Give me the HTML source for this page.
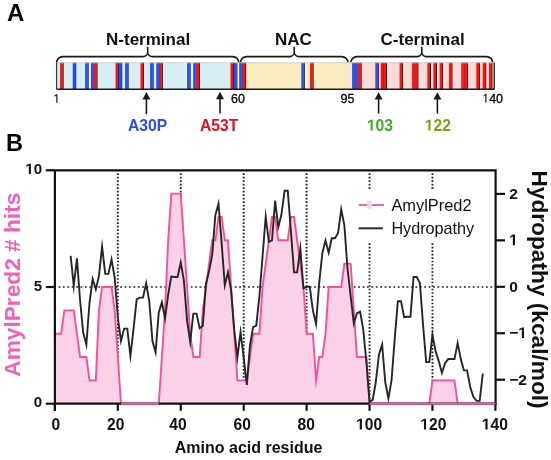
<!DOCTYPE html>
<html><head><meta charset="utf-8"><style>
html,body{margin:0;padding:0;background:#fff;}
body{width:551px;height:460px;overflow:hidden;}
svg{display:block;font-family:"Liberation Sans",sans-serif;will-change:transform;}
.dot{stroke:#222;stroke-width:1.9;stroke-dasharray:1.7 1.797;stroke-dashoffset:1.75;fill:none}
.doth{stroke:#222;stroke-width:1.7;stroke-dasharray:1.8 2.607;stroke-dashoffset:1.907;fill:none}
.ax{stroke:#111;stroke-width:2.2;fill:none}
.xl{font-size:16px;font-weight:bold;text-anchor:middle;fill:#111}
.yl{font-size:15px;font-weight:bold;text-anchor:end;fill:#111}
.yr{font-size:15.5px;font-weight:bold;fill:#111}
</style></head><body>
<svg width="551" height="460" viewBox="0 0 551 460">
<text x="7.0" y="20.7" font-size="24" font-weight="bold" fill="#000">A</text>
<text x="148.1" y="45" font-size="17" font-weight="bold" text-anchor="middle" fill="#111">N-terminal</text>
<text x="293.4" y="45" font-size="17" font-weight="bold" text-anchor="middle" fill="#111">NAC</text>
<text x="422.6" y="44.8" font-size="17" font-weight="bold" text-anchor="middle" fill="#111">C-terminal</text>
<g fill="none" stroke="#1a1a1a" stroke-width="1.6">
<path d="M56.60,63.00 L56.60,62.80 A6.20,6.20 0 0 1 62.80,56.60 L143.10,56.60 A4.60,4.60 0 0 0 147.70,52.00 L147.70,46.80 M147.70,52.00 A4.60,4.60 0 0 0 152.30,56.60 L232.60,56.60 A6.20,6.20 0 0 1 238.80,62.80 L238.80,63.00"/>
<path d="M240.50,63.00 L240.50,62.80 A6.20,6.20 0 0 1 246.70,56.60 L289.65,56.60 A4.60,4.60 0 0 0 294.25,52.00 L294.25,46.80 M294.25,52.00 A4.60,4.60 0 0 0 298.85,56.60 L341.80,56.60 A6.20,6.20 0 0 1 348.00,62.80 L348.00,63.00"/>
<path d="M350.80,63.00 L350.80,62.80 A6.20,6.20 0 0 1 357.00,56.60 L417.15,56.60 A4.60,4.60 0 0 0 421.75,52.00 L421.75,46.80 M421.75,52.00 A4.60,4.60 0 0 0 426.35,56.60 L486.50,56.60 A6.20,6.20 0 0 1 492.70,62.80 L492.70,63.00"/>
</g>
<rect x="56.50" y="62.60" width="437.80" height="26.40" fill="#d7eff4"/>
<rect x="237.2" y="62.60" width="1.9" height="26.40" fill="#f4fbfd"/>
<rect x="245.7" y="62.60" width="106.10" height="26.40" fill="#fbebc0"/>
<rect x="351.8" y="62.60" width="142.50" height="26.40" fill="#fcdbd7"/>
<rect x="60.10" y="62.60" width="2.60" height="26.40" fill="#ff1010"/><rect x="62.70" y="62.60" width="0.9" height="26.40" fill="#1a0000"/><rect x="72.70" y="62.60" width="2.60" height="26.40" fill="#2050ff"/><rect x="75.30" y="62.60" width="0.9" height="26.40" fill="#0a1038"/><rect x="85.10" y="62.60" width="2.60" height="26.40" fill="#2050ff"/><rect x="87.70" y="62.60" width="0.9" height="26.40" fill="#0a1038"/><rect x="91.00" y="62.60" width="2.60" height="26.40" fill="#2050ff"/><rect x="93.60" y="62.60" width="0.9" height="26.40" fill="#0a1038"/><rect x="94.00" y="62.60" width="2.60" height="26.40" fill="#ff1010"/><rect x="96.60" y="62.60" width="0.9" height="26.40" fill="#1a0000"/><rect x="115.50" y="62.60" width="2.60" height="26.40" fill="#ff1010"/><rect x="118.10" y="62.60" width="0.9" height="26.40" fill="#1a0000"/><rect x="118.70" y="62.60" width="2.60" height="26.40" fill="#2050ff"/><rect x="121.30" y="62.60" width="0.9" height="26.40" fill="#0a1038"/><rect x="125.10" y="62.60" width="2.60" height="26.40" fill="#2050ff"/><rect x="127.70" y="62.60" width="0.9" height="26.40" fill="#0a1038"/><rect x="140.50" y="62.60" width="2.60" height="26.40" fill="#ff1010"/><rect x="143.10" y="62.60" width="0.9" height="26.40" fill="#1a0000"/><rect x="150.10" y="62.60" width="2.60" height="26.40" fill="#2050ff"/><rect x="152.70" y="62.60" width="0.9" height="26.40" fill="#0a1038"/><rect x="156.30" y="62.60" width="2.60" height="26.40" fill="#2050ff"/><rect x="158.90" y="62.60" width="0.9" height="26.40" fill="#0a1038"/><rect x="159.30" y="62.60" width="2.60" height="26.40" fill="#ff1010"/><rect x="161.90" y="62.60" width="0.9" height="26.40" fill="#1a0000"/><rect x="187.10" y="62.60" width="2.60" height="26.40" fill="#2050ff"/><rect x="189.70" y="62.60" width="0.9" height="26.40" fill="#0a1038"/><rect x="193.20" y="62.60" width="2.60" height="26.40" fill="#2050ff"/><rect x="195.80" y="62.60" width="0.9" height="26.40" fill="#0a1038"/><rect x="196.30" y="62.60" width="2.60" height="26.40" fill="#ff1010"/><rect x="198.90" y="62.60" width="0.9" height="26.40" fill="#1a0000"/><rect x="230.50" y="62.60" width="2.60" height="26.40" fill="#ff1010"/><rect x="233.10" y="62.60" width="0.9" height="26.40" fill="#1a0000"/><rect x="233.90" y="62.60" width="2.60" height="26.40" fill="#2050ff"/><rect x="236.50" y="62.60" width="0.9" height="26.40" fill="#0a1038"/><rect x="239.20" y="62.60" width="2.60" height="26.40" fill="#2050ff"/><rect x="241.80" y="62.60" width="0.9" height="26.40" fill="#0a1038"/><rect x="242.60" y="62.60" width="2.60" height="26.40" fill="#ff1010"/><rect x="245.20" y="62.60" width="0.9" height="26.40" fill="#1a0000"/><rect x="301.30" y="62.60" width="2.60" height="26.40" fill="#2050ff"/><rect x="303.90" y="62.60" width="0.9" height="26.40" fill="#0a1038"/><rect x="310.10" y="62.60" width="2.60" height="26.40" fill="#ff1010"/><rect x="312.70" y="62.60" width="0.9" height="26.40" fill="#1a0000"/><rect x="352.10" y="62.60" width="2.60" height="26.40" fill="#2050ff"/><rect x="354.70" y="62.60" width="0.9" height="26.40" fill="#0a1038"/><rect x="354.90" y="62.60" width="2.60" height="26.40" fill="#2050ff"/><rect x="357.50" y="62.60" width="0.9" height="26.40" fill="#0a1038"/><rect x="358.10" y="62.60" width="2.60" height="26.40" fill="#ff1010"/><rect x="360.70" y="62.60" width="0.9" height="26.40" fill="#1a0000"/><rect x="375.30" y="62.60" width="2.60" height="26.40" fill="#2050ff"/><rect x="377.90" y="62.60" width="0.9" height="26.40" fill="#0a1038"/><rect x="380.70" y="62.60" width="2.60" height="26.40" fill="#ff1010"/><rect x="383.30" y="62.60" width="0.9" height="26.40" fill="#1a0000"/><rect x="383.50" y="62.60" width="2.60" height="26.40" fill="#ff1010"/><rect x="386.10" y="62.60" width="0.9" height="26.40" fill="#1a0000"/><rect x="399.60" y="62.60" width="2.60" height="26.40" fill="#ff1010"/><rect x="402.20" y="62.60" width="0.9" height="26.40" fill="#1a0000"/><rect x="412.10" y="62.60" width="2.60" height="26.40" fill="#ff1010"/><rect x="414.70" y="62.60" width="0.9" height="26.40" fill="#1a0000"/><rect x="414.90" y="62.60" width="2.60" height="26.40" fill="#ff1010"/><rect x="417.50" y="62.60" width="0.9" height="26.40" fill="#1a0000"/><rect x="427.40" y="62.60" width="2.60" height="26.40" fill="#ff1010"/><rect x="430.00" y="62.60" width="0.9" height="26.40" fill="#1a0000"/><rect x="433.40" y="62.60" width="2.60" height="26.40" fill="#ff1010"/><rect x="436.00" y="62.60" width="0.9" height="26.40" fill="#1a0000"/><rect x="439.60" y="62.60" width="2.60" height="26.40" fill="#ff1010"/><rect x="442.20" y="62.60" width="0.9" height="26.40" fill="#1a0000"/><rect x="448.90" y="62.60" width="2.60" height="26.40" fill="#ff1010"/><rect x="451.50" y="62.60" width="0.9" height="26.40" fill="#1a0000"/><rect x="461.20" y="62.60" width="2.60" height="26.40" fill="#ff1010"/><rect x="463.80" y="62.60" width="0.9" height="26.40" fill="#1a0000"/><rect x="464.30" y="62.60" width="2.60" height="26.40" fill="#ff1010"/><rect x="466.90" y="62.60" width="0.9" height="26.40" fill="#1a0000"/><rect x="476.30" y="62.60" width="2.60" height="26.40" fill="#ff1010"/><rect x="478.90" y="62.60" width="0.9" height="26.40" fill="#1a0000"/><rect x="482.70" y="62.60" width="2.60" height="26.40" fill="#ff1010"/><rect x="485.30" y="62.60" width="0.9" height="26.40" fill="#1a0000"/><rect x="488.90" y="62.60" width="2.60" height="26.40" fill="#ff1010"/><rect x="491.50" y="62.60" width="0.9" height="26.40" fill="#1a0000"/>
<line x1="56.50" y1="62.80" x2="494.30" y2="62.80" stroke="#c9c9c9" stroke-width="0.8"/>
<line x1="56.50" y1="89.2" x2="494.30" y2="89.2" stroke="#1a1a1a" stroke-width="1.4"/>
<line x1="56.6" y1="62.6" x2="56.6" y2="89.6" stroke="#333" stroke-width="1.1"/>
<line x1="494.2" y1="62.6" x2="494.2" y2="89.6" stroke="#111" stroke-width="1.2"/>
<g font-size="12.5" fill="#000" stroke="#000" stroke-width="0.3">
<text x="231" y="102.6">60</text>
<text x="340.6" y="102.6">95</text>
</g>
<g stroke="#000" stroke-width="0.3"><text x="53.20" y="102.80" font-size="12.50" fill="#000"> </text><path d="M515,0 L696,0 L696,1409 L530,1409 L197,1180 L197,1010 L515,1237 Z" fill="#000" transform="translate(53.20,102.80) scale(0.00610,-0.00610)"/><text x="482.20" y="102.60" font-size="12.50" fill="#000"> 40</text><path d="M515,0 L696,0 L696,1409 L530,1409 L197,1180 L197,1010 L515,1237 Z" fill="#000" transform="translate(482.20,102.60) scale(0.00610,-0.00610)"/></g>
<g>
</g>
<g stroke="#1a1a1a" stroke-width="1.6" fill="#1a1a1a">
<line x1="146.4" y1="98" x2="146.4" y2="114.2"/><path d="M142.4,99.4 L146.4,92.0 L150.4,99.4 Z" stroke="none"/>
<line x1="220" y1="98" x2="220" y2="113.6"/><path d="M216.0,99.2 L220,91.8 L224.0,99.2 Z" stroke="none"/>
<line x1="378.6" y1="98" x2="378.6" y2="113.6"/><path d="M374.6,99.4 L378.6,92.2 L382.6,99.4 Z" stroke="none"/>
<line x1="437.4" y1="98" x2="437.4" y2="113.6"/><path d="M433.4,99.4 L437.4,92.2 L441.4,99.4 Z" stroke="none"/>
</g>
<g font-size="15.7" font-weight="bold" text-anchor="middle">
<text x="147.6" y="130.6" fill="#2a4ef0">A30P</text>
<text x="219.1" y="130.6" fill="#e01020">A53T</text>
</g>
<text x="366.90" y="130.60" font-size="15.70" font-weight="bold" fill="#3cae28"> 03</text><path d="M478,0 L759,0 L759,1409 L493,1409 L140,1180 L140,959 L478,1170 Z" fill="#3cae28" transform="translate(366.90,130.60) scale(0.00767,-0.00767)"/><text x="424.70" y="130.60" font-size="15.70" font-weight="bold" fill="#7f9e12"> 22</text><path d="M478,0 L759,0 L759,1409 L493,1409 L140,1180 L140,959 L478,1170 Z" fill="#7f9e12" transform="translate(424.70,130.60) scale(0.00767,-0.00767)"/>
<g>
</g>
<text x="6.0" y="150.9" font-size="23.5" font-weight="bold" fill="#000">B</text>
<!-- chart -->
<line x1="117.83" y1="171.5" x2="117.83" y2="402.5" class="dot"/><line x1="180.76" y1="171.5" x2="180.76" y2="402.5" class="dot"/><line x1="243.69" y1="171.5" x2="243.69" y2="402.5" class="dot"/><line x1="306.61" y1="171.5" x2="306.61" y2="402.5" class="dot"/><line x1="369.54" y1="171.5" x2="369.54" y2="402.5" class="dot"/><line x1="432.47" y1="171.5" x2="432.47" y2="402.5" class="dot"/><line x1="56" y1="287.00" x2="492.4" y2="287.00" class="doth"/>
<path d="M56.00,333.68 L58.05,333.68 L61.19,333.68 L64.34,310.34 L67.49,310.34 L70.63,310.34 L73.78,310.34 L76.92,333.68 L80.07,357.02 L83.22,357.02 L86.36,357.02 L89.51,380.36 L92.66,380.36 L95.80,380.36 L98.95,310.34 L102.10,287.00 L105.24,287.00 L108.39,287.00 L111.54,287.00 L114.68,310.34 L117.83,357.02 L120.97,403.70 L124.12,403.70 L127.27,403.70 L130.41,403.70 L133.56,403.70 L136.71,403.70 L139.85,403.70 L143.00,403.70 L146.15,403.70 L149.29,403.70 L152.44,403.70 L155.59,403.70 L158.73,403.70 L161.88,357.02 L165.03,310.34 L168.17,240.32 L171.32,193.64 L174.46,193.64 L177.61,193.64 L180.76,193.64 L183.90,240.32 L187.05,287.00 L190.20,333.68 L193.34,357.02 L196.49,357.02 L199.64,357.02 L202.78,310.34 L205.93,287.00 L209.07,263.66 L212.22,240.32 L215.37,240.32 L218.51,216.98 L221.66,216.98 L224.81,240.32 L227.95,240.32 L231.10,287.00 L234.25,333.68 L237.39,380.36 L240.54,380.36 L243.69,380.36 L246.83,380.36 L249.98,357.02 L253.12,333.68 L256.27,333.68 L259.42,333.68 L262.56,287.00 L265.71,263.66 L268.86,240.32 L272.00,216.98 L275.15,216.98 L278.30,240.32 L281.44,240.32 L284.59,240.32 L287.74,240.32 L290.88,216.98 L294.03,216.98 L297.18,240.32 L300.32,263.66 L303.47,287.00 L306.61,333.68 L309.76,333.68 L312.91,333.68 L316.05,380.36 L319.20,357.02 L322.35,357.02 L325.49,333.68 L328.64,287.00 L331.79,287.00 L334.93,287.00 L338.08,287.00 L341.22,287.00 L344.37,263.66 L347.52,263.66 L350.66,263.66 L353.81,310.34 L356.96,357.02 L360.10,357.02 L363.25,357.02 L366.40,357.02 L369.54,403.70 L372.69,403.70 L375.84,403.70 L378.98,403.70 L382.13,403.70 L385.27,403.70 L388.42,403.70 L391.57,403.70 L394.71,403.70 L397.86,403.70 L401.01,403.70 L404.15,403.70 L407.30,403.70 L410.45,403.70 L413.59,403.70 L416.74,403.70 L419.89,403.70 L423.03,403.70 L426.18,403.70 L429.32,403.70 L432.47,380.36 L435.62,380.36 L438.76,380.36 L441.91,380.36 L445.06,380.36 L448.20,380.36 L451.35,380.36 L454.50,380.36 L457.64,403.70 L460.79,403.70 L463.94,403.70 L467.08,403.70 L470.23,403.70 L473.37,403.70 L476.52,403.70 L479.67,403.70 L482.81,403.70 L485.96,403.70 L489.11,403.70 L492.25,403.70 L495.40,403.70 L495.40,403.70 L56.00,403.70 Z" fill="#fad1e7" stroke="none"/>
<path d="M56.00,333.68 L58.05,333.68 L61.19,333.68 L64.34,310.34 L67.49,310.34 L70.63,310.34 L73.78,310.34 L76.92,333.68 L80.07,357.02 L83.22,357.02 L86.36,357.02 L89.51,380.36 L92.66,380.36 L95.80,380.36 L98.95,310.34 L102.10,287.00 L105.24,287.00 L108.39,287.00 L111.54,287.00 L114.68,310.34 L117.83,357.02 L120.97,403.70 L124.12,403.70 L127.27,403.70 L130.41,403.70 L133.56,403.70 L136.71,403.70 L139.85,403.70 L143.00,403.70 L146.15,403.70 L149.29,403.70 L152.44,403.70 L155.59,403.70 L158.73,403.70 L161.88,357.02 L165.03,310.34 L168.17,240.32 L171.32,193.64 L174.46,193.64 L177.61,193.64 L180.76,193.64 L183.90,240.32 L187.05,287.00 L190.20,333.68 L193.34,357.02 L196.49,357.02 L199.64,357.02 L202.78,310.34 L205.93,287.00 L209.07,263.66 L212.22,240.32 L215.37,240.32 L218.51,216.98 L221.66,216.98 L224.81,240.32 L227.95,240.32 L231.10,287.00 L234.25,333.68 L237.39,380.36 L240.54,380.36 L243.69,380.36 L246.83,380.36 L249.98,357.02 L253.12,333.68 L256.27,333.68 L259.42,333.68 L262.56,287.00 L265.71,263.66 L268.86,240.32 L272.00,216.98 L275.15,216.98 L278.30,240.32 L281.44,240.32 L284.59,240.32 L287.74,240.32 L290.88,216.98 L294.03,216.98 L297.18,240.32 L300.32,263.66 L303.47,287.00 L306.61,333.68 L309.76,333.68 L312.91,333.68 L316.05,380.36 L319.20,357.02 L322.35,357.02 L325.49,333.68 L328.64,287.00 L331.79,287.00 L334.93,287.00 L338.08,287.00 L341.22,287.00 L344.37,263.66 L347.52,263.66 L350.66,263.66 L353.81,310.34 L356.96,357.02 L360.10,357.02 L363.25,357.02 L366.40,357.02 L369.54,403.70 L372.69,403.70 L375.84,403.70 L378.98,403.70 L382.13,403.70 L385.27,403.70 L388.42,403.70 L391.57,403.70 L394.71,403.70 L397.86,403.70 L401.01,403.70 L404.15,403.70 L407.30,403.70 L410.45,403.70 L413.59,403.70 L416.74,403.70 L419.89,403.70 L423.03,403.70 L426.18,403.70 L429.32,403.70 L432.47,380.36 L435.62,380.36 L438.76,380.36 L441.91,380.36 L445.06,380.36 L448.20,380.36 L451.35,380.36 L454.50,380.36 L457.64,403.70 L460.79,403.70 L463.94,403.70 L467.08,403.70 L470.23,403.70 L473.37,403.70 L476.52,403.70 L479.67,403.70 L482.81,403.70 L485.96,403.70 L489.11,403.70 L492.25,403.70 L495.40,403.70" fill="none" stroke="#f5509c" stroke-width="1.9" stroke-linejoin="miter" stroke-miterlimit="10"/>
<path d="M70.63,255.83 L73.78,285.77 L76.92,258.41 L80.07,300.22 L83.22,332.73 L86.36,344.60 L89.51,302.80 L92.66,279.06 L95.80,289.38 L98.95,275.96 L102.10,246.54 L105.24,273.90 L108.39,273.90 L111.54,259.45 L114.68,277.51 L117.83,317.25 L120.97,340.99 L124.12,328.61 L127.27,328.61 L130.41,355.96 L133.56,328.61 L136.71,299.19 L139.85,297.64 L143.00,297.64 L146.15,283.19 L149.29,301.25 L152.44,340.99 L155.59,352.35 L158.73,312.61 L161.88,302.28 L165.03,318.28 L168.17,294.54 L171.32,276.48 L174.46,276.99 L177.61,276.99 L180.76,262.54 L183.90,280.61 L187.05,320.35 L190.20,342.02 L193.34,313.64 L196.49,313.64 L199.64,328.09 L202.78,326.02 L205.93,284.22 L209.07,271.32 L212.22,254.80 L215.37,215.06 L218.51,203.71 L221.66,243.45 L224.81,285.25 L227.95,272.35 L231.10,290.41 L234.25,330.15 L237.39,357.51 L240.54,332.22 L243.69,357.51 L246.83,384.86 L249.98,345.12 L253.12,327.06 L256.27,325.51 L259.42,296.09 L262.56,256.35 L265.71,216.61 L268.86,241.90 L272.00,240.35 L275.15,200.61 L278.30,227.10 L281.44,214.54 L284.59,190.80 L287.74,190.80 L290.88,230.54 L294.03,272.35 L297.18,272.35 L300.32,248.61 L303.47,288.35 L306.61,286.80 L309.76,286.80 L312.91,310.54 L316.05,323.96 L319.20,282.67 L322.35,253.25 L325.49,240.35 L328.64,252.74 L331.79,238.29 L334.93,238.29 L338.08,233.12 L341.22,209.38 L344.37,225.38 L347.52,268.74 L350.66,296.09 L353.81,323.44 L356.96,313.12 L360.10,311.57 L363.25,329.64 L366.40,362.15 L369.54,401.89 L372.69,399.83 L375.84,381.76 L378.98,354.41 L382.13,344.60 L385.27,382.28 L388.42,398.28 L391.57,380.22 L394.71,338.93 L397.86,301.25 L401.01,301.25 L404.15,317.25 L407.30,316.73 L410.45,316.73 L413.59,276.99 L416.74,276.99 L419.89,283.19 L423.03,324.48 L426.18,362.15 L429.32,362.15 L432.47,334.80 L435.62,351.31 L438.76,361.12 L441.91,372.99 L445.06,363.18 L448.20,359.06 L451.35,359.06 L454.50,359.06 L457.64,343.06 L460.79,359.06 L463.94,370.41 L467.08,370.41 L470.23,386.93 L473.37,396.73 L476.52,400.86 L479.67,400.86 L482.81,373.51" fill="none" stroke="#262626" stroke-width="1.9" stroke-linejoin="miter" stroke-miterlimit="10"/>
<!-- legend -->
<rect x="356" y="189.5" width="124" height="53.5" fill="#fff"/>
<line x1="358.8" y1="205" x2="384" y2="205" stroke="#f0609f" stroke-width="1.9"/>
<rect x="367.2" y="200.8" width="4.6" height="8" fill="#fad6ea"/>
<line x1="358.6" y1="228.3" x2="382.8" y2="228.3" stroke="#2a2a2a" stroke-width="2"/>
<text x="391.4" y="210.8" font-size="16.4" fill="#111">AmylPred2</text>
<text x="391.4" y="233.8" font-size="16.2" fill="#111">Hydropathy</text>
<!-- axes -->
<path d="M54.9,170.3 L495.6,170.3 L495.6,403.7 L54.9,403.7 Z" class="ax"/>
<line x1="54.9" y1="403" x2="54.9" y2="410.8" class="ax"/>
<line x1="54.90" y1="403" x2="54.90" y2="410.8" class="ax"/><text x="51.41" y="429.50" font-size="15.60" font-weight="bold" fill="#111">0</text><line x1="117.83" y1="403" x2="117.83" y2="410.8" class="ax"/><text x="107.02" y="429.50" font-size="15.60" font-weight="bold" fill="#111">20</text><line x1="180.76" y1="403" x2="180.76" y2="410.8" class="ax"/><text x="169.32" y="429.50" font-size="15.60" font-weight="bold" fill="#111">40</text><line x1="243.69" y1="403" x2="243.69" y2="410.8" class="ax"/><text x="233.52" y="429.50" font-size="15.60" font-weight="bold" fill="#111">60</text><line x1="306.61" y1="403" x2="306.61" y2="410.8" class="ax"/><text x="297.62" y="429.50" font-size="15.60" font-weight="bold" fill="#111">80</text><line x1="369.54" y1="403" x2="369.54" y2="410.8" class="ax"/><text x="356.09" y="429.50" font-size="15.60" font-weight="bold" fill="#111"> 00</text><path d="M478,0 L759,0 L759,1409 L493,1409 L140,1180 L140,959 L478,1170 Z" fill="#111" transform="translate(356.09,429.50) scale(0.00762,-0.00762)"/><line x1="432.47" y1="403" x2="432.47" y2="410.8" class="ax"/><text x="420.29" y="429.50" font-size="15.60" font-weight="bold" fill="#111"> 20</text><path d="M478,0 L759,0 L759,1409 L493,1409 L140,1180 L140,959 L478,1170 Z" fill="#111" transform="translate(420.29,429.50) scale(0.00762,-0.00762)"/><line x1="495.40" y1="403" x2="495.40" y2="410.8" class="ax"/><text x="481.79" y="429.50" font-size="15.60" font-weight="bold" fill="#111"> 40</text><path d="M478,0 L759,0 L759,1409 L493,1409 L140,1180 L140,959 L478,1170 Z" fill="#111" transform="translate(481.79,429.50) scale(0.00762,-0.00762)"/>
<line x1="45.8" y1="403.70" x2="55" y2="403.70" class="ax"/><text x="33.66" y="406.60" font-size="15.00" font-weight="bold" fill="#111">0</text><line x1="45.8" y1="287.00" x2="55" y2="287.00" class="ax"/><text x="33.66" y="290.60" font-size="15.00" font-weight="bold" fill="#111">5</text><line x1="45.8" y1="170.30" x2="55" y2="170.30" class="ax"/><text x="25.32" y="174.00" font-size="15.00" font-weight="bold" fill="#111"> 0</text><path d="M478,0 L759,0 L759,1409 L493,1409 L140,1180 L140,959 L478,1170 Z" fill="#111" transform="translate(25.32,174.00) scale(0.00732,-0.00732)"/>
<line x1="495.4" y1="193.90" x2="505" y2="193.90" class="ax"/><text x="509.20" y="198.70" font-size="15.50" font-weight="bold" fill="#111">2</text><line x1="495.4" y1="240.35" x2="505" y2="240.35" class="ax"/><text x="509.20" y="245.15" font-size="15.50" font-weight="bold" fill="#111"> </text><path d="M478,0 L759,0 L759,1409 L493,1409 L140,1180 L140,959 L478,1170 Z" fill="#111" transform="translate(509.20,245.15) scale(0.00757,-0.00757)"/><line x1="495.4" y1="286.80" x2="505" y2="286.80" class="ax"/><text x="509.20" y="291.60" font-size="15.50" font-weight="bold" fill="#111">0</text><line x1="495.4" y1="333.25" x2="505" y2="333.25" class="ax"/><text x="509.20" y="338.05" font-size="15.50" font-weight="bold" fill="#111">− </text><path d="M478,0 L759,0 L759,1409 L493,1409 L140,1180 L140,959 L478,1170 Z" fill="#111" transform="translate(518.25,338.05) scale(0.00757,-0.00757)"/><line x1="495.4" y1="379.70" x2="505" y2="379.70" class="ax"/><text x="509.20" y="384.50" font-size="15.50" font-weight="bold" fill="#111">−2</text>
<path d="M120.97,403.70 L158.73,403.70" stroke="#f0609f" stroke-width="1.9"/>
<path d="M369.54,403.70 L495.40,403.70" stroke="#f0609f" stroke-width="1.9"/>
<text transform="translate(19.6,284.7) rotate(-90)" font-size="22.7" font-weight="bold" text-anchor="middle" fill="#f060b8">AmylPred2 # hits</text>
<text transform="translate(531.6,289.5) rotate(90)" font-size="22.7" font-weight="bold" text-anchor="middle" fill="#111">Hydropathy (kcal/mol)</text>
<text x="174.8" y="452.6" font-size="16" font-weight="bold" fill="#111">Amino acid residue</text>
</svg>
</body></html>
